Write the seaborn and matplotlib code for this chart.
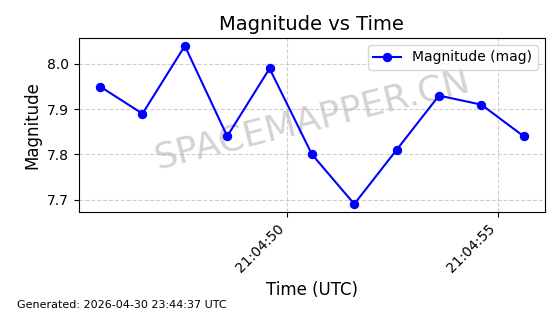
import matplotlib
matplotlib.use("Agg")
import matplotlib.pyplot as plt
import matplotlib.dates as mdates
import seaborn as sns
import pandas as pd

times = ["2026-04-30 21:04:45.6", "2026-04-30 21:04:46.6", "2026-04-30 21:04:47.6",
         "2026-04-30 21:04:48.6", "2026-04-30 21:04:49.6", "2026-04-30 21:04:50.6",
         "2026-04-30 21:04:51.6", "2026-04-30 21:04:52.6", "2026-04-30 21:04:53.6",
         "2026-04-30 21:04:54.6", "2026-04-30 21:04:55.6"]
magnitudes = [7.95, 7.89, 8.04, 7.84, 7.99, 7.80, 7.69, 7.81, 7.93, 7.91, 7.84]

df = pd.DataFrame({"time": pd.to_datetime(times), "mag": magnitudes})

fig, ax = plt.subplots(figsize=(5.6, 3.14), dpi=100)
fig.subplots_adjust(left=0.141, right=0.973, top=0.879, bottom=0.325)

sns.lineplot(data=df, x="time", y="mag", ax=ax, color="blue", marker="o",
             markersize=6, markeredgecolor="blue", linewidth=1.5,
             label="Magnitude (mag)", zorder=3)

ax.set_title("Magnitude vs Time", fontsize=14)
ax.set_xlabel("Time (UTC)", fontsize=12)
ax.set_ylabel("Magnitude", fontsize=12)
ax.grid(True, linestyle="--", alpha=0.6)
ax.xaxis.set_major_locator(mdates.SecondLocator(bysecond=range(0, 60, 5)))
ax.xaxis.set_major_formatter(mdates.DateFormatter("%H:%M:%S"))
plt.setp(ax.get_xticklabels(), rotation=45, ha="right")
ax.legend(loc="upper right")

ax.text(0.5, 0.53, "SPACEMAPPER.CN", transform=ax.transAxes, fontsize=26,
        color="gray", alpha=0.35, ha="center", va="center", rotation=14, zorder=1)

fig.text(0.03, 0.02, "Generated: 2026-04-30 23:44:37 UTC", fontsize=8)

fig.savefig("out.png", dpi=100)
